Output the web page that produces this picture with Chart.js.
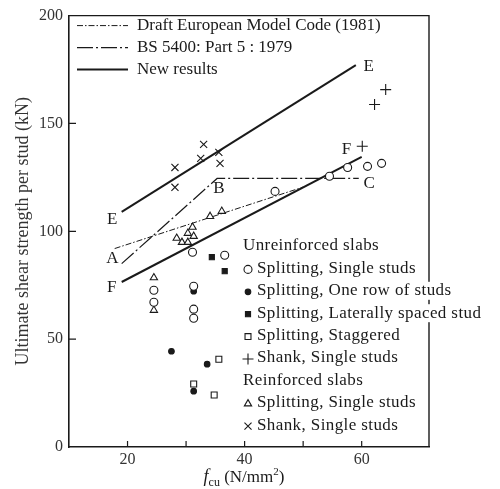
<!DOCTYPE html>
<html>
<head>
<meta charset="utf-8">
<script src="https://cdn.jsdelivr.net/npm/chart.js@4.4.0/dist/chart.umd.min.js"></script>
<style>
  html, body { margin: 0; padding: 0; background: #fff; }
  #wrap { width: 500px; height: 489px; }
</style>
</head>
<body>
<div id="wrap"><canvas id="chart" width="500" height="489"></canvas></div>
<script>
const SERIF = "'Liberation Serif', 'Times New Roman', serif";
const INK = "#1a1a1a";

// design lines: fcu (N/mm2) against strength (kN)
const draftX = [17.8, 50];
const draftY = [92, 120.5];
const bsX = [19, 35.3, 59.5];
const bsY = [85, 124.5, 124.5];
const newEX = [19, 59];
const newEY = [109, 177];
const newFX = [19, 60];
const newFY = [76.5, 134.5];

// unreinforced slabs
const uSplitSingleX = [24.5, 24.5, 31.3, 31.3, 31.3, 31.1, 36.6, 45.2, 54.5, 57.6, 61.0, 63.4];
const uSplitSingleY = [72.7, 67.1, 74.5, 63.9, 59.7, 90.3, 88.9, 118.5, 125.5, 129.6, 130.1, 131.5];
const uOneRowX = [31.3, 27.5, 33.6, 31.3];
const uOneRowY = [72.2, 44.4, 38.4, 25.9];
const uLateralX = [34.4, 36.6];
const uLateralY = [88.0, 81.5];
const uStaggerX = [31.3, 35.6, 34.8];
const uStaggerY = [29.2, 40.7, 24.1];
const uShankX = [64.1, 62.2, 60.1];
const uShankY = [165.7, 158.8, 139.4];

// reinforced slabs
const rSplitX = [24.5, 24.5, 28.4, 29.3, 30.3, 30.3, 31.3, 31.1, 34.1, 36.1];
const rSplitY = [78.5, 63.4, 96.8, 94.9, 94.9, 99.1, 97.7, 101.9, 106.9, 109.3];
const rShankX = [28.1, 28.1, 33.0, 32.5, 35.6, 35.8];
const rShankY = [129.6, 120.4, 140.3, 133.8, 136.6, 131.5];

const xTickValues = [20, 30, 40, 50, 60];
const yTickValues = [0, 50, 100, 150, 200];

const designLabels = ["Draft European Model Code (1981)", "BS 5400: Part 5 : 1979", "New results"];
const groupLabels = ["Unreinforced slabs", "Reinforced slabs"];

// letters next to the lines (x, y in data units)
const letterText = ["E", "E", "F", "F", "A", "B", "C"];
const letterX = [17.4, 61.2, 17.3, 57.4, 17.4, 35.6, 61.3];
const letterY = [105.6, 176.4, 74.1, 138.0, 87.5, 119.9, 122.2];

const pts = (xs, ys) => xs.map((x, i) => ({ x: x, y: ys[i] }));

const lineDs = (label, xs, ys, width, dash) => ({
  type: "line", label: label, data: pts(xs, ys),
  borderColor: INK, borderWidth: width, borderDash: dash,
  pointRadius: 0, fill: false, tension: 0, order: 2
});
const markDs = (label, xs, ys, style, r, fill) => ({
  type: "scatter", label: label, data: pts(xs, ys),
  pointStyle: style, pointRadius: r, pointHoverRadius: r,
  borderColor: INK, backgroundColor: fill, pointBorderWidth: 1.1, order: 1
});

const lines = [
  lineDs(designLabels[0], draftX, draftY, 1, [6, 2, 1.5, 2]),
  lineDs(designLabels[1], bsX, bsY, 1.2, [16, 3, 2, 3]),
  lineDs(designLabels[2], newEX, newEY, 2, []),
  lineDs(designLabels[2], newFX, newFY, 2, [])
];
const unreinforced = [
  markDs("Splitting, Single studs", uSplitSingleX, uSplitSingleY, "circle", 4, "#fff"),
  markDs("Splitting, One row of studs", uOneRowX, uOneRowY, "circle", 2.8, INK),
  markDs("Splitting, Laterally spaced stud", uLateralX, uLateralY, "rect", 3.6, INK),
  markDs("Splitting, Staggered", uStaggerX, uStaggerY, "rect", 4.2, "#fff"),
  markDs("Shank, Single studs", uShankX, uShankY, "cross", 5.5, INK)
];
const reinforced = [
  markDs("Splitting, Single studs", rSplitX, rSplitY, "triangle", 4.2, "#fff"),
  markDs("Shank, Single studs", rShankX, rShankY, "crossRot", 5, INK)
];

const decor = {
  id: "decor",
  beforeDatasetsDraw(chart) {
    const { ctx, chartArea: a, scales } = chart;
    ctx.save();
    ctx.strokeStyle = INK;
    ctx.lineWidth = 1.4;
    ctx.beginPath();
    ctx.moveTo(a.left, a.top);
    ctx.lineTo(a.right, a.top);
    ctx.lineTo(a.right, a.bottom);
    ctx.stroke();
    // inward tick marks
    ctx.lineWidth = 1.2;
    ctx.beginPath();
    xTickValues.forEach(v => {
      const px = scales.x.getPixelForValue(v);
      ctx.moveTo(px, a.bottom);
      ctx.lineTo(px, a.bottom - 6);
    });
    yTickValues.slice(1, -1).forEach(v => {
      const py = scales.y.getPixelForValue(v);
      ctx.moveTo(a.left, py);
      ctx.lineTo(a.left + 7, py);
    });
    ctx.stroke();
    ctx.restore();
  },
  afterDatasetsDraw(chart) {
    const { ctx, chartArea: a, scales } = chart;
    const drawPoint = Chart.helpers.drawPoint;
    ctx.save();
    ctx.fillStyle = INK;
    ctx.textBaseline = "middle";

    // letters
    ctx.font = "17px " + SERIF;
    ctx.textAlign = "center";
    letterText.forEach((t, i) => {
      ctx.fillText(t, scales.x.getPixelForValue(letterX[i]), scales.y.getPixelForValue(letterY[i]));
    });

    // top legend (design lines)
    ctx.textAlign = "left";
    ctx.font = "17px " + SERIF;
    [lines[0], lines[1], lines[2]].forEach((ds, i) => {
      const y = a.top + 10 + i * 22;
      ctx.strokeStyle = INK;
      ctx.lineWidth = ds.borderWidth;
      ctx.setLineDash(ds.borderDash);
      ctx.beginPath();
      ctx.moveTo(a.left + 8, y);
      ctx.lineTo(a.left + 59, y);
      ctx.stroke();
      ctx.setLineDash([]);
      ctx.fillText(ds.label, a.left + 68, y);
    });

    // bottom legend (test groups)
    ctx.letterSpacing = "0.4px";
    const rows = [];
    rows.push({ head: groupLabels[0] });
    unreinforced.forEach(ds => rows.push({ ds: ds }));
    rows.push({ head: groupLabels[1] });
    reinforced.forEach(ds => rows.push({ ds: ds }));
    rows.forEach((r, i) => {
      const y = 246 + i * 22.4;
      const text = r.head || r.ds.label;
      const tx = r.head ? 243 : 257;
      const w = ctx.measureText(text).width;
      ctx.fillStyle = "#fff";
      ctx.fillRect(tx - 1, y - 9, w + 2, 18);
      ctx.fillStyle = INK;
      ctx.fillText(text, tx, y);
      if (r.ds) {
        ctx.strokeStyle = INK;
        ctx.lineWidth = 1.1;
        ctx.fillStyle = r.ds.backgroundColor;
        drawPoint(ctx, { pointStyle: r.ds.pointStyle, radius: r.ds.pointRadius, rotation: 0, borderWidth: 1.1 }, 248, y + 1);
        ctx.fillStyle = INK;
      }
    });
    ctx.letterSpacing = "0px";

    // x axis title: f_cu (N/mm^2)
    const base = 482;
    const parts = [
      { t: "f", f: "italic 18px " + SERIF, dy: 0 },
      { t: "cu", f: "12px " + SERIF, dy: 4 },
      { t: " (N/mm", f: "17px " + SERIF, dy: 0 },
      { t: "2", f: "11px " + SERIF, dy: -7 },
      { t: ")", f: "17px " + SERIF, dy: 0 }
    ];
    ctx.textBaseline = "alphabetic";
    let total = 0;
    parts.forEach(p => { ctx.font = p.f; p.w = ctx.measureText(p.t).width; total += p.w; });
    let x = 244 - total / 2;
    parts.forEach(p => { ctx.font = p.f; ctx.fillText(p.t, x, base + p.dy); x += p.w; });
    ctx.restore();
  }
};

new Chart(document.getElementById("chart"), {
  type: "scatter",
  data: { datasets: [...lines, ...unreinforced, ...reinforced] },
  options: {
    responsive: false,
    devicePixelRatio: 1,
    animation: false,
    layout: { padding: { top: 15, right: 71, left: 0, bottom: 0 } },
    plugins: { legend: { display: false }, tooltip: { enabled: false } },
    scales: {
      x: {
        type: "linear", min: 10, max: 71.5,
        afterFit: s => { s.height = 42; },
        afterBuildTicks: s => { s.ticks = xTickValues.map(v => ({ value: v })); },
        ticks: {
          callback: v => (v % 20 === 0 ? String(v) : ""),
          font: { family: SERIF, size: 16 }, color: "#333", padding: 3,
          maxRotation: 0, autoSkip: false
        },
        grid: { display: false, drawTicks: false },
        border: { display: true, color: INK, width: 1.4 }
      },
      y: {
        type: "linear", min: 0, max: 200,
        afterFit: s => { s.width = 69; },
        afterBuildTicks: s => { s.ticks = yTickValues.map(v => ({ value: v })); },
        ticks: { font: { family: SERIF, size: 16 }, color: "#333", padding: 6 },
        grid: { display: false, drawTicks: false },
        border: { display: true, color: INK, width: 1.6 },
        title: {
          display: true, text: "Ultimate shear strength per stud (kN)",
          font: { family: SERIF, size: 18 }, color: "#333",
          padding: { top: 12, bottom: 0 }
        }
      }
    }
  },
  plugins: [decor]
});
</script>
</body>
</html>
